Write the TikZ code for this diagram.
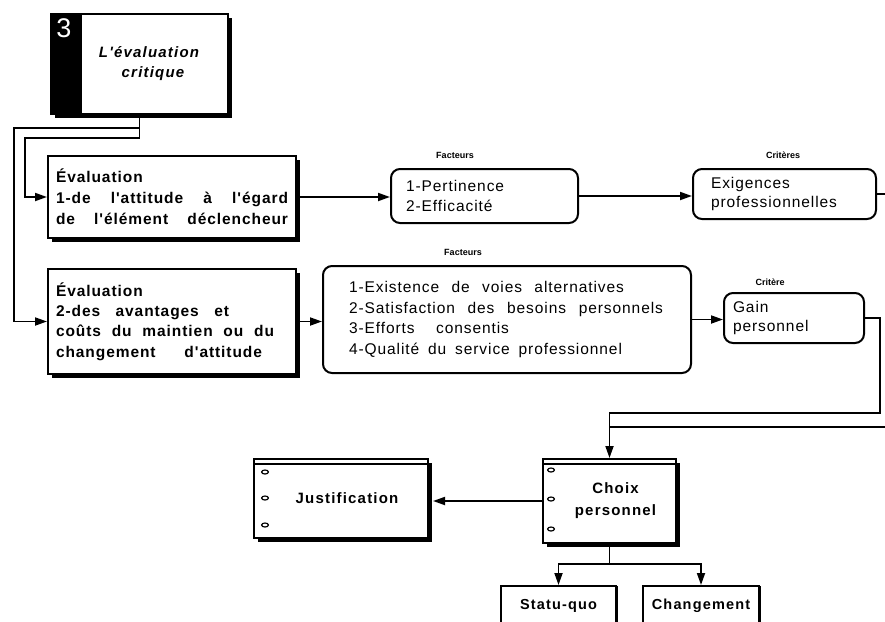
\documentclass[tikz,border=0pt]{standalone}
\usepackage{fontspec}
\setmainfont{Liberation Sans}
\newfontfamily\evfam[LetterSpace=6]{Liberation Sans}
\newfontfamily\outfam[LetterSpace=8]{Liberation Sans}
\newfontfamily\listfam[LetterSpace=6]{Liberation Sans}
\newfontfamily\titlefam[LetterSpace=8]{Liberation Sans}
\usetikzlibrary{arrows.meta,shadows,calc}
% word gap that stretches to justify a line set in a fixed-width box
\newcommand\wgap{\ \hfill}

\begin{document}
\begin{tikzpicture}[x=1pt,y=-1pt,
  line width=1.8pt,
  arr/.style={-{Triangle[length=12pt,width=8pt]}},
  shadowed/.style={general shadow={fill=black, shadow xshift=3.5pt, shadow yshift=-3.5pt}},
  evbox/.style={draw, fill=white, shadowed, line width=2pt, inner sep=0pt,
    anchor=north west, minimum width=248pt, text width=232pt, align=left,
    font=\evfam\bfseries\fontsize{15.5}{21}\selectfont},
  roundbox/.style={draw, rounded corners=9pt, line width=2pt, inner sep=0pt,
    anchor=north west, align=left, font=\listfam\fontsize{15.5}{19.5}\selectfont},
  tag/.style={font=\bfseries\fontsize{9}{10}\selectfont},
  binder/.style={draw, fill=white, general shadow={fill=black, shadow xshift=4pt, shadow yshift=-4pt},
    line width=2pt, inner sep=0pt, anchor=north west, align=center,
    font=\outfam\bfseries\fontsize{15}{22}\selectfont},
  outcome/.style={draw, fill=white, general shadow={fill=black, shadow xshift=2pt, shadow yshift=0pt},
    line width=2pt, inner sep=0pt, anchor=north west, minimum height=40pt,
    font=\outfam\bfseries\fontsize{14.5}{16}\selectfont},
  hole/.style={line width=1.2pt, fill=white}
]
\useasboundingbox (0,0) rectangle (885,621);
\clip (0,0) rectangle (885,621);

% title block with black band
\node[draw, fill=white, shadowed, line width=2pt, anchor=north west,
      minimum width=177pt, minimum height=100pt, inner sep=0pt] (title) at (50,13) {};
\fill (title.north west) rectangle ($(title.south west)+(32,0)$);
\node[font=\fontsize{27}{27}\selectfont, text=white] (num) at (64,28) {3};
\node[font=\titlefam\bfseries\itshape\fontsize{15}{20}\selectfont, align=center] (ttl) at (149,64)
  {L'évaluation\\ \hspace*{8pt}critique};

% evaluation boxes
\node[evbox, minimum height=82pt] (ev1) at (47,155)
  {Évaluation\\
   \makebox[232pt][l]{1-de\wgap l'attitude\wgap à\wgap l'égard}\\
   \makebox[232pt][l]{de\wgap l'élément\wgap déclencheur}};
\node[evbox, minimum height=105pt, font=\evfam\bfseries\fontsize{15.5}{20.3}\selectfont] (ev2) at (47,268)
  {Évaluation\\
   \makebox[173pt][l]{2-des\wgap avantages\wgap et}\\
   \makebox[218pt][l]{coûts\wgap du\wgap maintien\wgap ou\wgap du}\\
   \makebox[206pt][l]{changement\wgap d'attitude}};

% factors and criteria
\node[tag] (lfa) at (455,155) {Facteurs};
\node[roundbox, minimum width=187pt, minimum height=54pt, text width=157pt] (fa) at (390,168)
  {1-Pertinence\\2-Efficacité};
\node[tag] (lcb) at (783,155) {Critères};
\node[roundbox, minimum width=183pt, minimum height=50pt, text width=147pt] (cb) at (692,168)
  {Exigences\\professionnelles};

\node[tag] (lfc) at (463,252) {Facteurs};
\node[roundbox, minimum width=368pt, minimum height=107pt, text width=316pt,
      font=\listfam\fontsize{15.5}{20.7}\selectfont] (fc) at (322,265)
  {\makebox[275pt][l]{1-Existence\wgap de\wgap voies\wgap alternatives}\\
   \makebox[314pt][l]{2-Satisfaction\wgap des\wgap besoins\wgap personnels}\\
   \makebox[160pt][l]{3-Efforts\wgap consentis}\\
   \makebox[273pt][l]{4-Qualité\wgap du\wgap service\wgap professionnel}};
\node[tag] (lgd) at (770,282) {Critère};
\node[roundbox, minimum width=140pt, minimum height=50pt, text width=122pt] (gd) at (723,292)
  {Gain\\personnel};

% binder boxes
\node[binder, minimum width=133pt, minimum height=84pt] (choix) at (542,458)
  {\hspace*{12pt}Choix\\\hspace*{12pt}personnel};
\node[binder, minimum width=174pt, minimum height=79pt] (just) at (253,458)
  {\hspace*{12pt}Justification};
\draw[line width=1.2pt] ($(choix.north west)+(0,6)$) -- ($(choix.north east)+(0,6)$);
\draw[line width=1.2pt] ($(just.north west)+(0,6)$) -- ($(just.north east)+(0,6)$);
\foreach \dy in {12,41,71}
  \draw[hole] ($(choix.north west)+(9,\dy)$) ellipse [x radius=3.4, y radius=2];
\foreach \dy in {14,40,67}
  \draw[hole] ($(just.north west)+(12,\dy)$) ellipse [x radius=3.4, y radius=2];

% outcomes
\node[outcome, minimum width=115pt] (sq) at (500,585) {Statu-quo};
\node[outcome, minimum width=116pt] (ch) at (642,585) {Changement};

% connectors
\coordinate (split) at (0,128);
\coordinate (drop) at (0,413);
\coordinate (edgeA) at (890,0);
\coordinate (edgeB) at (890,427);

\draw[arr] (title.south) |- (25,138) |- (ev1.west);
\draw[arr] (title.south |- split) -- (14,128) |- (ev2.west);
\draw[arr] (ev1.east) -- (ev1.east -| fa.west);
\draw[arr] (fa.east) -- (fa.east -| cb.west);
\draw (cb.east) -- (cb.east -| edgeA);
\draw[arr] (ev2.east) -- (ev2.east -| fc.west);
\draw[arr] (fc.east) -- (fc.east -| gd.west);
\draw[arr] (gd.east) -- ++(15,0) |- (choix.north |- drop) -- (choix.north);
\draw (edgeB) -- (edgeB -| choix.north);
\draw[arr] (choix.west) -- ($(choix.west -| just.east)+(4,0)$);
\draw[arr] (choix.south) -- ++(0,20) -| (sq.north);
\draw[arr] (choix.south) -- ++(0,20) -| (ch.north);
\end{tikzpicture}
\end{document}
